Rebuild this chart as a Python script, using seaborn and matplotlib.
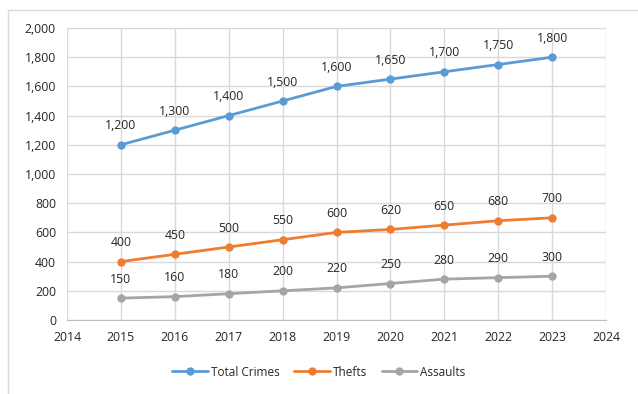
import matplotlib
matplotlib.use("Agg")
import matplotlib.pyplot as plt
import seaborn as sns
import pandas as pd

years = [2015, 2016, 2017, 2018, 2019, 2020, 2021, 2022, 2023]
total_crimes = [1200, 1300, 1400, 1500, 1600, 1650, 1700, 1750, 1800]
thefts = [400, 450, 500, 550, 600, 620, 650, 680, 700]
assaults = [150, 160, 180, 200, 220, 250, 280, 290, 300]
series_names = ["Total Crimes", "Thefts", "Assaults"]
colors = ["#5B9BD5", "#ED7D31", "#A5A5A5"]

df = pd.DataFrame({
    "Year": years * 3,
    "Value": total_crimes + thefts + assaults,
    "Series": [s for s in series_names for _ in years],
})

sns.set_style("white")
plt.rcParams["font.family"] = ["Open Sans", "DejaVu Sans"]
text_color = "#262626"

fig = plt.figure(figsize=(6.38, 3.94), dpi=100)
ax = fig.add_axes([67 / 638, 1 - 320 / 394, (606 - 67) / 638, (320 - 28) / 394])

sns.lineplot(data=df, x="Year", y="Value", hue="Series", palette=colors,
             marker="o", markersize=6, markeredgewidth=0, linewidth=2,
             ax=ax, legend=False)

for name, vals, c in zip(series_names, [total_crimes, thefts, assaults], colors):
    for x, y in zip(years, vals):
        ax.annotate(f"{y:,}", (x, y), xytext=(0, 9), textcoords="offset points",
                    ha="center", va="bottom", fontsize=8.8, color=text_color)

ax.set_xlim(2014, 2024)
ax.set_ylim(0, 2000)
ax.set_xticks(range(2014, 2025))
ax.set_yticks(range(0, 2001, 200))
ax.set_yticklabels([f"{v:,}" for v in range(0, 2001, 200)])
ax.tick_params(axis="both", labelsize=8.8, colors=text_color, length=0, pad=8)
ax.grid(True, color="#D9D9D9", linewidth=1)
ax.set_xlabel("")
ax.set_ylabel("")
for side in ["top", "right", "left"]:
    ax.spines[side].set_visible(False)
ax.spines["bottom"].set_color("#BFBFBF")

handles = [plt.Line2D([], [], color=c, marker="o", markersize=6, linewidth=2,
                      markeredgewidth=0) for c in colors]
fig.legend(handles, series_names, loc="center", bbox_to_anchor=(0.5, 1 - 372 / 394),
           ncol=3, frameon=False, fontsize=8.5, handlelength=3, columnspacing=1.2,
           handletextpad=0.3, labelcolor=text_color)

# chart area border
fig.add_artist(plt.Line2D([8 / 638, 8 / 638], [0, 1 - 10 / 394], color="#D9D9D9", linewidth=1))
fig.add_artist(plt.Line2D([8 / 638, 1], [1 - 10 / 394, 1 - 10 / 394], color="#D9D9D9", linewidth=1))

fig.savefig("out.png", dpi=100)
